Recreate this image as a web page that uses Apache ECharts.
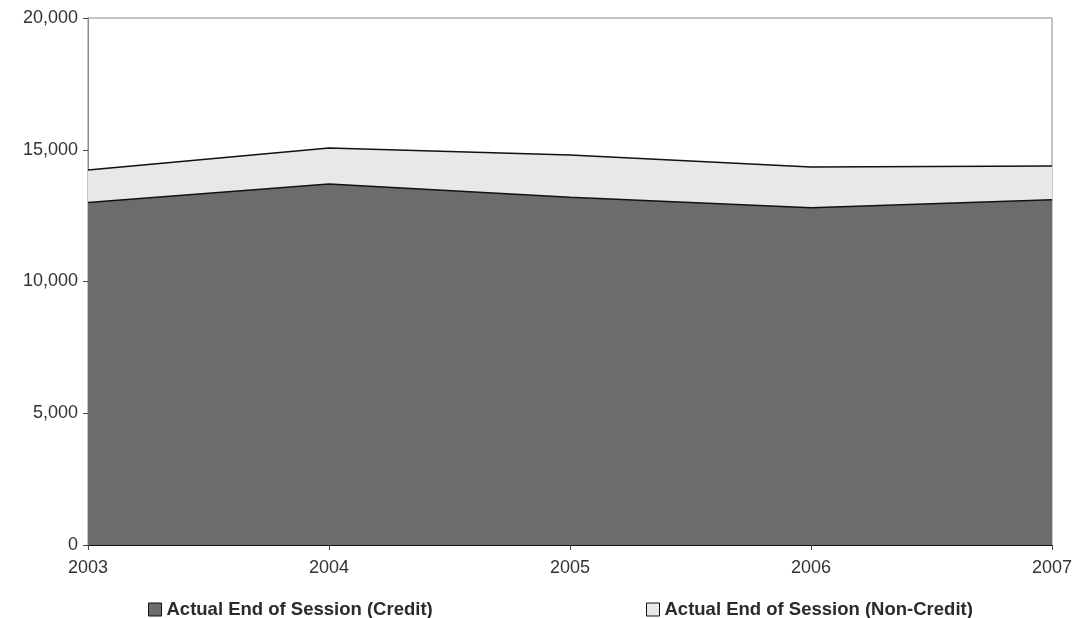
<!DOCTYPE html>
<html>
<head>
<meta charset="utf-8">
<script src="https://cdn.jsdelivr.net/npm/echarts@6/dist/echarts.min.js"></script>
<style>
  html, body { margin: 0; padding: 0; background: #fff; }
  #main { width: 1075px; height: 618px; }
</style>
</head>
<body>
<div id="main"></div>
<script>
// years on x axis
var years = ['2003', '2004', '2005', '2006', '2007'];
// stacked values
var creditValues = [13000, 13700, 13200, 12800, 13100];
var nonCreditValues = [1230, 1370, 1600, 1550, 1280];

var myChart = echarts.init(document.getElementById('main'));

var font = 'Liberation Sans, Arial, sans-serif';
var legendText = { fontFamily: font, fontSize: 18.5, fontWeight: 'bold', color: '#2a2a2a' };

var option = {
    backgroundColor: '#fff',
    animation: false,
    grid: {
        left: 88, right: 23, top: 18, bottom: 73,
        show: true, borderColor: '#8a8a8a', borderWidth: 1
    },
    legend: [
        {
            data: ['Actual End of Session (Credit)'],
            left: 143, top: 595,
            icon: 'rect', itemWidth: 13, itemHeight: 13, itemGap: 5,
            textStyle: legendText,
            itemStyle: { borderColor: '#111', borderWidth: 1 }
        },
        {
            data: ['Actual End of Session (Non-Credit)'],
            left: 641, top: 595,
            icon: 'rect', itemWidth: 13, itemHeight: 13, itemGap: 5,
            textStyle: legendText,
            itemStyle: { borderColor: '#111', borderWidth: 1 }
        }
    ],
    xAxis: {
        type: 'category',
        data: years,
        boundaryGap: false,
        axisLine: { lineStyle: { color: '#111', width: 1 } },
        axisTick: { show: true, alignWithLabel: true, length: 5, lineStyle: { color: '#444' } },
        axisLabel: { fontFamily: font, fontSize: 18, color: '#333', margin: 14 },
        splitLine: { show: false }
    },
    yAxis: {
        type: 'value',
        min: 0, max: 20000, interval: 5000,
        axisLine: { show: true, lineStyle: { color: '#8a8a8a' } },
        axisTick: { show: true, length: 5, lineStyle: { color: '#444' } },
        axisLabel: {
            fontFamily: font, fontSize: 18, color: '#333', margin: 10,
            formatter: function (v) { return v.toLocaleString('en-US'); }
        },
        splitLine: { show: false }
    },
    series: [
        {
            name: 'Actual End of Session (Credit)',
            type: 'line',
            stack: 'total',
            data: creditValues,
            symbol: 'none',
            lineStyle: { color: '#111', width: 1.5 },
            itemStyle: { color: '#6c6c6c' },
            areaStyle: { color: '#6c6c6c', opacity: 1 }
        },
        {
            name: 'Actual End of Session (Non-Credit)',
            type: 'line',
            stack: 'total',
            data: nonCreditValues,
            symbol: 'none',
            lineStyle: { color: '#111', width: 1.5 },
            itemStyle: { color: '#e8e8e8' },
            areaStyle: { color: '#e8e8e8', opacity: 1 }
        }
    ]
};

myChart.setOption(option);
window.addEventListener('resize', function () {
    myChart.resize();
});
</script>
</body>
</html>
